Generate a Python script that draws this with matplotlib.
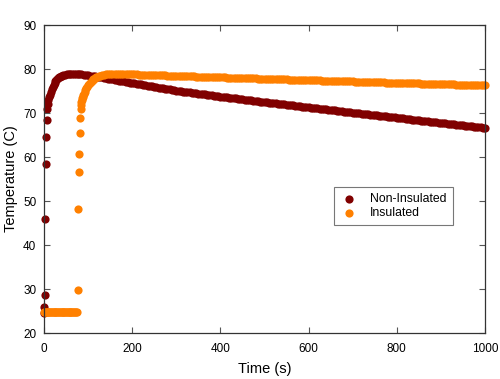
import matplotlib
matplotlib.use("Agg")
import matplotlib.pyplot as plt

plt.rcParams['font.family'] = ['Liberation Sans', 'DejaVu Sans']

# non-insulated run: warm-up part (uneven sampling), then cool-down sampled every 5 s
t_non_rise = [0, 1, 2, 3, 4, 5, 6, 7,
              8, 10, 12, 14, 16, 18, 20, 22, 24, 26, 28, 30, 32, 34, 36, 38, 40,
              44, 48, 52, 56, 60, 64, 68, 72, 76]
T_non_rise = [24.5, 26.0, 28.7, 46.0, 58.5, 64.5, 68.4, 70.9,
              72.0, 72.9, 73.6, 74.2, 74.8, 75.4, 75.9, 76.4, 76.8, 77.2, 77.5, 77.8, 78.0, 78.2, 78.3, 78.4, 78.5,
              78.6, 78.7, 78.8, 78.85, 78.9, 78.9, 78.9, 78.9, 78.9]
t_non_fall = list(range(80, 1001, 5))
T_non_fall = [78.85, 78.79, 78.72, 78.64, 78.55, 78.48, 78.40, 78.32, 78.24, 78.16, 78.08, 78.00, 77.92, 77.84,
              77.75, 77.66, 77.57, 77.48, 77.39, 77.30, 77.21, 77.12, 77.03, 76.94, 76.85,
              76.76, 76.67, 76.58, 76.49, 76.40, 76.31, 76.23, 76.14, 76.05, 75.96,
              75.88, 75.79, 75.71, 75.62, 75.54, 75.45, 75.37, 75.28, 75.19, 75.10,
              75.03, 74.96, 74.89, 74.82, 74.75, 74.68, 74.62, 74.55, 74.48, 74.41,
              74.35, 74.28, 74.22, 74.15, 74.08, 74.01, 73.95, 73.88, 73.82, 73.75,
              73.69, 73.62, 73.56, 73.50, 73.44, 73.37, 73.31, 73.25, 73.19, 73.12,
              73.06, 73.00, 72.94, 72.87, 72.81, 72.75, 72.69, 72.62, 72.56, 72.50,
              72.44, 72.38, 72.32, 72.26, 72.20, 72.14, 72.08, 72.02, 71.96, 71.90,
              71.84, 71.78, 71.72, 71.66, 71.60, 71.54, 71.48, 71.42, 71.36, 71.30,
              71.24, 71.18, 71.12, 71.06, 71.00, 70.94, 70.88, 70.82, 70.76, 70.70,
              70.64, 70.58, 70.52, 70.46, 70.40, 70.34, 70.28, 70.22, 70.16, 70.10,
              70.04, 69.98, 69.93, 69.87, 69.81, 69.75, 69.70, 69.64, 69.58, 69.52,
              69.47, 69.41, 69.35, 69.29, 69.24, 69.18, 69.12, 69.06, 69.01, 68.95,
              68.89, 68.83, 68.77, 68.71, 68.65, 68.59, 68.53, 68.47, 68.41, 68.35,
              68.29, 68.23, 68.17, 68.11, 68.05, 67.99, 67.93, 67.87, 67.81, 67.75,
              67.70, 67.64, 67.58, 67.52, 67.47, 67.41, 67.35, 67.29, 67.24, 67.18,
              67.12, 67.06, 67.01, 66.95, 66.89, 66.83, 66.78, 66.72, 66.66, 66.60]

# insulated run
t_ins_rise = [0, 2, 4, 6, 8, 10, 12, 14, 16, 18, 20, 22, 24, 26, 28, 30, 32, 34, 36,
              38, 40, 42, 44, 46, 48, 50, 52, 54, 56, 58, 60, 62, 64, 66, 68, 70, 72, 74,
              76, 78, 79, 80, 81, 82, 83, 84, 85, 86, 87, 88, 89, 90, 92, 94, 96, 98, 100,
              102, 104, 106, 108, 110, 112, 114, 116, 118, 120, 124, 128, 132, 136, 140,
              145, 150, 155, 160, 165, 170, 175, 180, 185, 190, 195]
T_ins_rise = [24.9, 24.9, 24.9, 24.9, 24.9, 24.9, 24.9, 24.9, 24.9, 24.9, 24.9, 24.9, 24.9, 24.9, 24.9, 24.9, 24.9, 24.9, 24.9,
              24.9, 24.9, 24.9, 24.9, 24.9, 24.9, 24.9, 24.9, 24.9, 24.9, 24.9, 24.9, 24.9, 24.9, 24.9, 24.9, 24.9, 24.9, 24.9,
              29.8, 48.2, 56.6, 60.7, 65.4, 68.9, 71.0, 71.8, 72.5, 73.0, 73.4, 73.7, 74.0, 74.3, 74.8, 75.3, 75.7, 76.0, 76.3,
              76.6, 76.85, 77.1, 77.3, 77.5, 77.65, 77.8, 77.95, 78.1, 78.2, 78.35, 78.5, 78.6, 78.7, 78.8,
              78.85, 78.9, 78.92, 78.95, 78.95, 78.95, 78.93, 78.9, 78.88, 78.85, 78.83]
t_ins_fall = list(range(200, 1001, 5))
T_ins_fall = [78.80, 78.78, 78.77, 78.75, 78.73, 78.71, 78.70, 78.68, 78.66, 78.64,
              78.63, 78.61, 78.59, 78.57, 78.56, 78.54, 78.52, 78.50, 78.49, 78.47, 78.45,
              78.43, 78.42, 78.40, 78.38, 78.36, 78.35, 78.33, 78.32, 78.30, 78.28,
              78.26, 78.25, 78.23, 78.22, 78.20, 78.19, 78.17, 78.15, 78.13, 78.12,
              78.10, 78.09, 78.07, 78.06, 78.04, 78.02, 78.00, 77.99, 77.97, 77.96,
              77.94, 77.93, 77.91, 77.90, 77.88, 77.86, 77.84, 77.83, 77.81, 77.80,
              77.78, 77.77, 77.75, 77.74, 77.72, 77.70, 77.68, 77.67, 77.65, 77.64,
              77.62, 77.61, 77.59, 77.58, 77.56, 77.54, 77.52, 77.51, 77.49, 77.48,
              77.46, 77.45, 77.43, 77.42, 77.40, 77.39, 77.37, 77.36, 77.34, 77.33,
              77.31, 77.29, 77.27, 77.26, 77.24, 77.23, 77.21, 77.20, 77.18, 77.17,
              77.15, 77.14, 77.12, 77.11, 77.09, 77.08, 77.06, 77.05, 77.03, 77.02,
              77.00, 76.99, 76.97, 76.96, 76.94, 76.93, 76.91, 76.90, 76.88, 76.87,
              76.85, 76.84, 76.82, 76.81, 76.79, 76.78, 76.76, 76.75, 76.73, 76.72,
              76.71, 76.70, 76.68, 76.67, 76.65, 76.64, 76.62, 76.61, 76.59, 76.58,
              76.56, 76.55, 76.53, 76.52, 76.51, 76.50, 76.48, 76.47, 76.45, 76.44,
              76.42, 76.41, 76.39, 76.38, 76.37, 76.36, 76.34, 76.33, 76.31, 76.30]

t_non = t_non_rise + t_non_fall
T_non = T_non_rise + T_non_fall
t_ins = t_ins_rise + t_ins_fall
T_ins = T_ins_rise + T_ins_fall

fig = plt.figure(figsize=(5, 3.79), dpi=100)
ax = fig.add_axes([0.088, 0.121, 0.882, 0.813])

msize = 5.9 ** 2
ax.scatter(t_non, T_non, s=msize, c='#800000', linewidths=0, snap=False,
           label='Non-Insulated', clip_on=False)
ax.scatter(t_ins, T_ins, s=msize, c='#ff8000', linewidths=0, snap=False,
           label='Insulated', clip_on=False)

ax.set_xlim(0, 1000)
ax.set_ylim(20, 90)
ax.set_xticks([0, 200, 400, 600, 800, 1000])
ax.set_yticks(range(20, 91, 10))
ax.tick_params(direction='in', top=True, right=True, length=4, width=0.8,
               color='#555555', labelsize=8.5)
ax.tick_params(axis='x', pad=7)
ax.tick_params(axis='y', pad=5.5)
for s in ax.spines.values():
    s.set_color('#333333')
    s.set_linewidth(0.9)

ax.set_xlabel('Time (s)', fontsize=10.5, labelpad=5)
ax.set_ylabel('Temperature (C)', fontsize=10.5, labelpad=4)

leg = ax.legend(loc='center', bbox_to_anchor=(0.787, 0.456), bbox_transform=fig.transFigure,
                fontsize=8.8, fancybox=False, edgecolor='#777777', framealpha=1,
                borderpad=0.5, handletextpad=1.1, labelspacing=0.15, handlelength=1.3,
                scatterpoints=1)
leg.get_frame().set_linewidth(0.8)

fig.savefig('out.png', dpi=100)
